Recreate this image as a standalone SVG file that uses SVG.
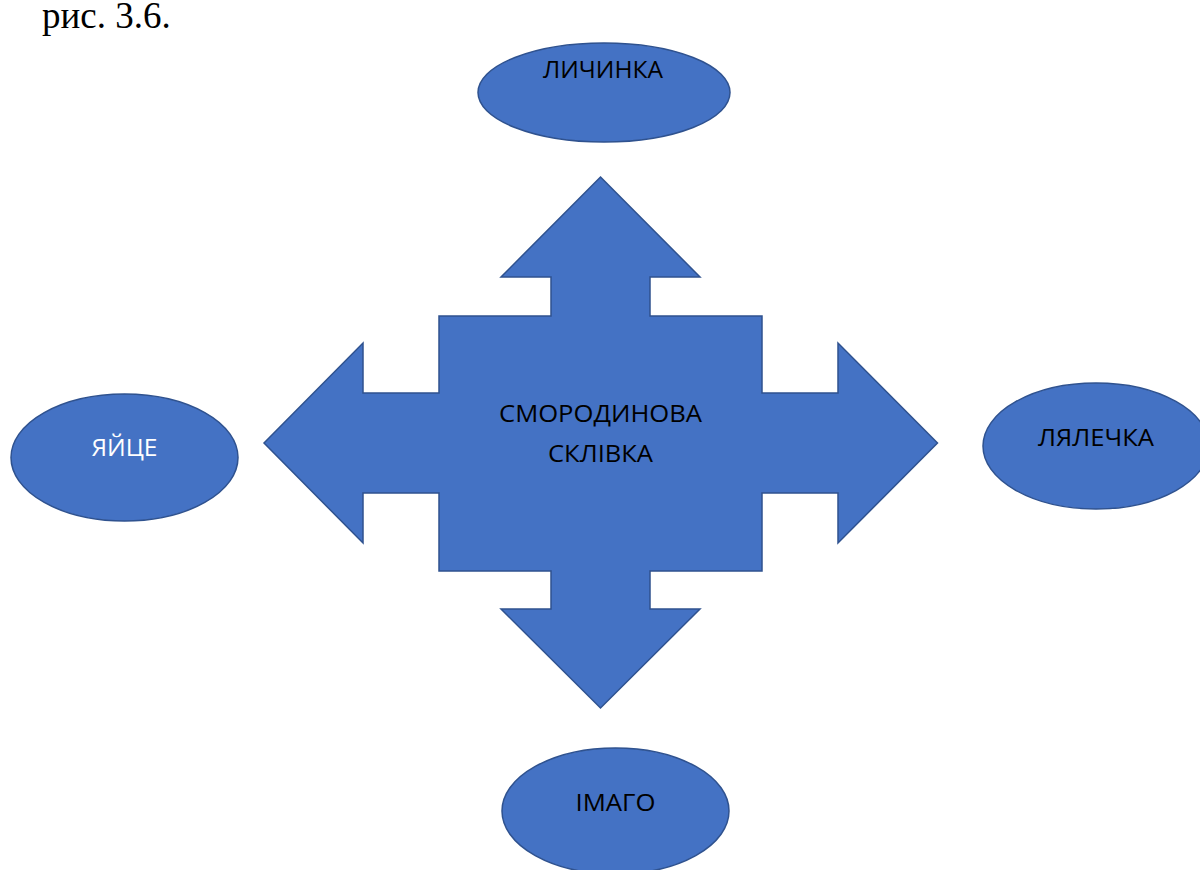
<svg xmlns="http://www.w3.org/2000/svg" width="1200" height="870" viewBox="0 0 1200 870">
<style>
.shape{fill:#4472C4;stroke:#2F528F;stroke-width:1.5;stroke-linejoin:miter}
.lbl{font-family:"Open Sans","Liberation Sans",sans-serif;font-size:23px;text-anchor:middle;fill:#000}
.white{fill:#fff}
.cap{font-family:"Liberation Serif","Times New Roman",serif;font-size:37px;fill:#000}
</style>
<rect width="1200" height="870" fill="#fff"/>
<text class="cap" x="42" y="28">рис. 3.6.</text>
<g id="center">
<polygon class="shape" points="600.5,177 700,277 650,277 650,316 762,316 762,393 838,393 838,343 937.5,443 838,543 838,493 762,493 762,571 650,571 650,609 700,609 600.5,708 501,609 551,609 551,571 439,571 439,493 363,493 363,543 264,443 363,343 363,393 439,393 439,316 551,316 551,277 501,277"/>
<text class="lbl" x="600.5" y="422" textLength="203" lengthAdjust="spacingAndGlyphs">СМОРОДИНОВА</text>
<text class="lbl" x="600.5" y="462" textLength="105" lengthAdjust="spacingAndGlyphs">СКЛІВКА</text>
</g>
<g id="larva">
<ellipse class="shape" cx="604" cy="92.5" rx="126" ry="49.5"/>
<text class="lbl" x="603" y="78" textLength="120" lengthAdjust="spacingAndGlyphs">ЛИЧИНКА</text>
</g>
<g id="egg">
<ellipse class="shape" cx="124.5" cy="457.5" rx="113.5" ry="63.5"/>
<text class="lbl white" x="124.5" y="456" textLength="66" lengthAdjust="spacingAndGlyphs">ЯЙЦЕ</text>
</g>
<g id="pupa">
<ellipse class="shape" cx="1096" cy="446" rx="113" ry="63"/>
<text class="lbl" x="1096" y="446" textLength="116" lengthAdjust="spacingAndGlyphs">ЛЯЛЕЧКА</text>
</g>
<g id="imago">
<ellipse class="shape" cx="615.5" cy="811" rx="113.5" ry="63"/>
<text class="lbl" x="615.5" y="811" textLength="80" lengthAdjust="spacingAndGlyphs">ІМАГО</text>
</g>
<g id="connectors"></g>
</svg>
